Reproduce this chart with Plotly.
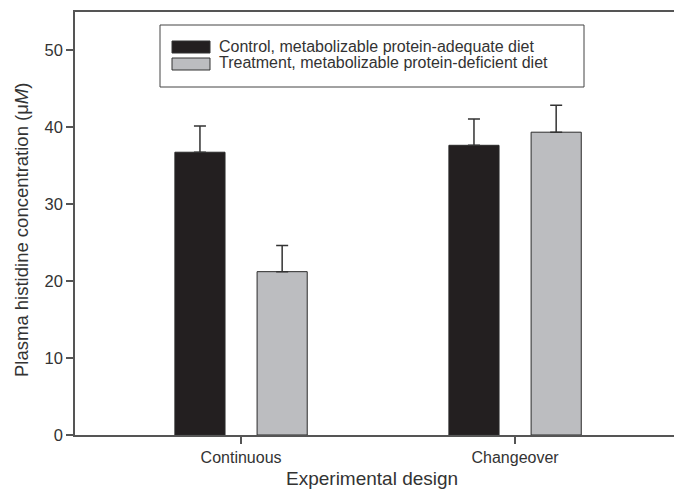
import plotly.graph_objects as go

categories = ["Continuous", "Changeover"]
series_names = ["Control, metabolizable protein-adequate diet",
                "Treatment, metabolizable protein-deficient diet"]
control_values = [36.7, 37.6]
control_err = [3.4, 3.4]
treatment_values = [21.2, 39.3]
treatment_err = [3.4, 3.5]
y_ticks = [0, 10, 20, 30, 40, 50]

colors = ["#231f20", "#bcbdc0"]
line_col = "#555555"
text_col = "#333333"
font_family = "Liberation Sans, Arial, sans-serif"

fig = go.Figure()
for name, vals, errs, col in [(series_names[0], control_values, control_err, colors[0]),
                              (series_names[1], treatment_values, treatment_err, colors[1])]:
    fig.add_trace(go.Bar(
        x=categories, y=vals, name=name,
        marker=dict(color=col, line=dict(color="#2a2a2a", width=1)),
        error_y=dict(type="data", array=errs, arrayminus=[0] * len(errs), symmetric=False,
                     color="#333333", thickness=1.5, width=6),
        showlegend=False,
    ))

# custom legend (wide swatches, as in the original)
L, R, T, B = 75, 674, 12, 435
def px(x):
    return (x - L) / (R - L)
def py(y):
    return (B - y) / (B - T)

shapes = [dict(type="rect", xref="paper", yref="paper",
               x0=px(160), x1=px(584), y0=py(87), y1=py(25),
               line=dict(color="#444444", width=1), fillcolor="white", layer="above")]
sw_y = [(41, 53), (58, 70)]
annotations = []
for i, name in enumerate(series_names):
    y0, y1 = sw_y[i]
    shapes.append(dict(type="rect", xref="paper", yref="paper",
                       x0=px(172), x1=px(210), y0=py(y1), y1=py(y0),
                       line=dict(color="#333333", width=1), fillcolor=colors[i], layer="above"))
    annotations.append(dict(xref="paper", yref="paper", x=px(217), y=py((y0 + y1) / 2 - 1),
                            xanchor="left", yanchor="middle", showarrow=False, text=name,
                            font=dict(size=16, color=text_col, family=font_family)))

# axis titles as annotations for exact placement
annotations.append(dict(xref="paper", yref="paper", x=0.5 * (px(282) + px(462)), y=py(478),
                        xanchor="center", yanchor="middle", showarrow=False,
                        text="Experimental design",
                        font=dict(size=19, color=text_col, family=font_family)))
annotations.append(dict(xref="paper", yref="paper", x=px(21), y=py(230),
                        xanchor="center", yanchor="middle", showarrow=False, textangle=-90,
                        text="Plasma histidine concentration (\u03bc<i>M</i>)",
                        font=dict(size=18.5, color=text_col, family=font_family)))

fig.update_layout(
    width=674, height=489,
    margin=dict(l=L, r=674 - R, t=T, b=489 - B, autoexpand=False),
    paper_bgcolor="white", plot_bgcolor="white",
    barmode="group", bargap=0.4, bargroupgap=0.39,
    font=dict(family=font_family, color=text_col, size=16),
    shapes=shapes, annotations=annotations,
    xaxis=dict(
        type="category", range=[-0.606, 1.58], automargin=False,
        showline=True, linecolor=line_col, linewidth=1.5, mirror=True,
        ticks="outside", ticklen=7, tickcolor=line_col, tickwidth=1.5,
        showgrid=False, zeroline=False,
        tickfont=dict(size=16, color=text_col),
    ),
    yaxis=dict(
        range=[0, 54.9], tickvals=y_ticks, automargin=False,
        showline=True, linecolor=line_col, linewidth=1.5, mirror=False,
        ticks="outside", ticklen=7, tickcolor=line_col, tickwidth=1.5,
        showgrid=False, zeroline=False,
        tickfont=dict(size=16.5, color=text_col),
    ),
)

fig.write_html("out.html", config={"displayModeBar": False},
               post_script="document.body.style.margin='0';document.body.style.overflow='hidden';")
